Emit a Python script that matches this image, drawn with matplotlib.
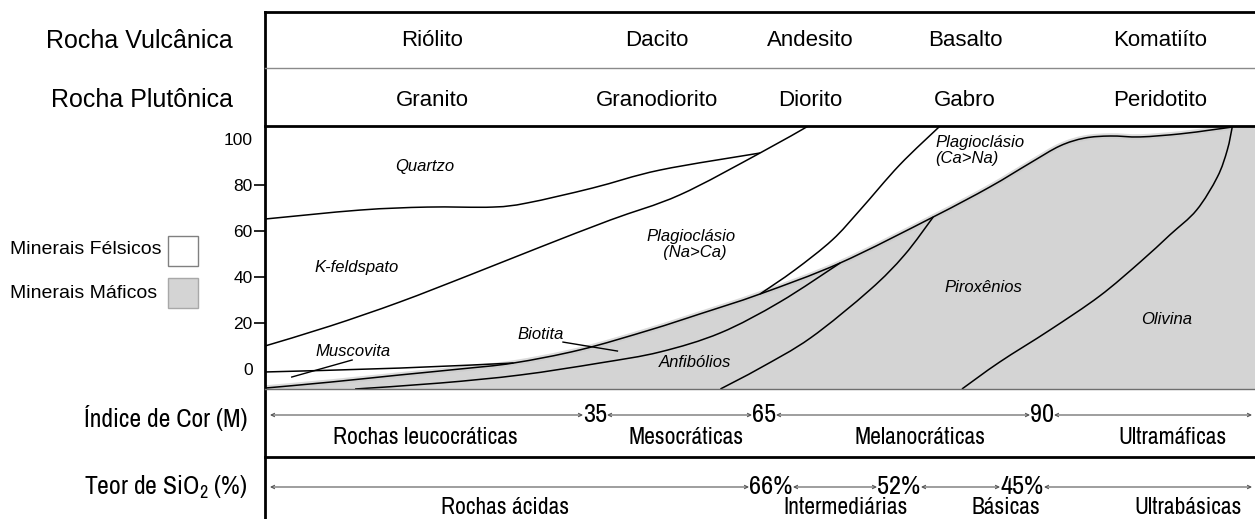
import numpy as np
import matplotlib.pyplot as plt
from matplotlib.path import Path
from matplotlib.patches import PathPatch

plt.rcParams['font.family'] = ['Liberation Sans', 'DejaVu Sans']
NARROW = ['Archivo Narrow', 'Roboto Condensed', 'Liberation Sans', 'DejaVu Sans']
plt.rcParams['mathtext.fontset'] = 'custom'
plt.rcParams['mathtext.rm'] = NARROW[0]
plt.rcParams['mathtext.it'] = NARROW[0] + ':italic'

W, H = 1255, 519
GRAY = '#d4d4d4'

# rock names per column
volcanic = ['Riólito', 'Dacito', 'Andesito', 'Basalto', 'Komatiíto']
plutonic = ['Granito', 'Granodiorito', 'Diorito', 'Gabro', 'Peridotito']
rock_x = [432, 657, 810, 965, 1160]

# color index (M) and silica scales
color_index = ['35', '65', '90']
color_index_x = [595, 764, 1042]
color_classes = ['Rochas leucocráticas', 'Mesocráticas', 'Melanocráticas', 'Ultramáficas']
color_class_x = [425, 686, 920, 1172]

silica = ['66%', '52%', '45%']
silica_x = [771, 899, 1022]
silica_classes = ['Rochas ácidas', 'Intermediárias', 'Básicas', 'Ultrabásicas']
silica_class_x = [505, 846, 1006, 1188]

# mineral field boundaries: x across the diagram (0-100), y in vol %
quartz_x = [0, 9.6, 16.4, 23.0, 26.5, 33.1, 39.9, 50.0]
quartz_y = [65.2, 69.1, 70.4, 70.4, 72.2, 78.7, 86.5, 93.9]

kfeld_x = [0, 6.6, 13.6, 20.7, 27.8, 34.9, 41.9, 50.0, 54.9]
kfeld_y = [10.0, 18.7, 29.1, 40.9, 53.0, 64.8, 75.7, 93.9, 105.7]

plag_x = [68.2, 64.1, 60.1, 57.3, 53.5, 50.0]
plag_y = [105.7, 88.7, 69.1, 56.1, 43.0, 32.6]

musc_x = [0, 13.6, 25.1]
musc_y = [-1.3, 0.4, 2.6]

mafic_x = [0, 6.6, 13.6, 19.7, 25.1, 31.8, 38.9, 43.9, 50.0, 58.1, 67.5,
           73.2, 77.3, 80.3, 82.8, 85.4, 88.4, 92.4, 95.5, 97.7]
mafic_y = [-8.3, -5.7, -2.6, 0.0, 2.6, 8.3, 17.0, 23.9, 32.6, 46.1, 66.1,
           79.1, 89.6, 97.0, 100.4, 101.3, 100.9, 102.2, 103.9, 105.2]

biot_x = [9.1, 17.7, 25.8, 33.8, 39.9, 46.0, 52.0, 58.1]
biot_y = [-8.7, -6.1, -2.6, 2.6, 7.4, 15.7, 29.1, 46.1]

amph_x = [46.0, 50.0, 55.1, 61.1, 64.6, 67.5]
amph_y = [-8.7, 0.4, 13.5, 34.4, 49.6, 66.1]

oliv_x = [70.4, 74.2, 79.3, 84.3, 88.4, 91.4, 94.1, 96.2, 97.2, 97.7]
oliv_y = [-8.7, 3.0, 17.0, 31.7, 46.5, 58.3, 69.1, 83.5, 95.2, 105.2]

y_bottom, y_top = -8.7, 105.65


def smooth(xs, ys):
    """Cubic Bezier vertices/codes running through every point (Catmull-Rom tangents)."""
    p = np.column_stack([xs, ys]).astype(float)
    ext = np.vstack([p[0], p, p[-1]])
    verts, codes = [p[0]], [Path.MOVETO]
    for i in range(len(p) - 1):
        a, b, c, d = ext[i], ext[i + 1], ext[i + 2], ext[i + 3]
        verts += [b + (c - a) / 6, c - (d - b) / 6, c]
        codes += [Path.CURVE4] * 3
    return verts, codes


fig = plt.figure(figsize=(W / 100, H / 100), dpi=100)

# mineral diagram
ax = fig.add_axes([265 / W, 1 - 389 / H, 990 / W, 263 / H])
ax.set_xlim(0, 100)
ax.set_ylim(y_bottom, y_top)
ax.set_facecolor('none')
for s in ax.spines.values():
    s.set_visible(False)

v, c = smooth(mafic_x, mafic_y)
v = v + [(mafic_x[-1], y_top), (100, y_top), (100, y_bottom), (0, y_bottom), (0, 0)]
c = c + [Path.LINETO] * 4 + [Path.CLOSEPOLY]
ax.add_patch(PathPatch(Path(v, c), facecolor=GRAY, lw=0))
v, c = smooth(mafic_x, mafic_y)
ax.add_patch(PathPatch(Path(v, c), facecolor='none', edgecolor='#cccccc', lw=4, alpha=0.7))
ax.add_patch(PathPatch(Path(v, c), facecolor='none', edgecolor='black', lw=1.1))

for xs, ys in [(quartz_x, quartz_y), (kfeld_x, kfeld_y), (plag_x, plag_y),
               (musc_x, musc_y), (biot_x, biot_y), (amph_x, amph_y), (oliv_x, oliv_y)]:
    v, c = smooth(xs, ys)
    ax.add_patch(PathPatch(Path(v, c), facecolor='none', edgecolor='black', lw=1.1))

ax.set_xticks([])
ax.set_yticks([0, 20, 40, 60, 80, 100])
ax.set_yticklabels(['0', '20', '40', '60', '80', '100'], fontsize=12.5)
ax.tick_params(axis='y', length=8, width=1.2, pad=1)
for t in ax.yaxis.get_major_ticks():
    if t.get_loc() in (0, 100):
        t.tick1line.set_visible(False)

it = dict(style='italic', fontsize=12)
ax.text(16.1, 88, 'Quartzo', ha='center', va='center', **it)
ax.text(9.3, 44, 'K-feldspato', ha='center', va='center', **it)
ax.text(43.0, 54, 'Plagioclásio\n  (Na>Ca)', ha='center', va='center', linespacing=1.05, **it)
ax.text(67.7, 95, 'Plagioclásio\n(Ca>Na)', ha='left', va='center', linespacing=1.05, **it)
ax.text(8.9, 7.4, 'Muscovita', ha='center', va='center', **it)
ax.text(27.8, 15, 'Biotita', ha='center', va='center', **it)
ax.text(43.4, 3, 'Anfibólios', ha='center', va='center', **it)
ax.text(72.6, 35.5, 'Piroxênios', ha='center', va='center', **it)
ax.text(91.1, 21.7, 'Olivina', ha='center', va='center', **it)
ax.plot([2.7, 8.8], [-3.5, 3.9], color='black', lw=1)
ax.plot([30.1, 35.6], [11.7, 7.8], color='black', lw=1)

# table frame and labels, in pixel units
bg = fig.add_axes([0, 0, 1, 1])
bg.set_xlim(0, W)
bg.set_ylim(H, 0)
bg.set_facecolor('none')
bg.axis('off')

bg.plot([265, 265], [12, H], color='black', lw=2)
bg.plot([265, W], [12, 12], color='black', lw=2)
bg.plot([265, W], [68, 68], color='#8a8a8a', lw=1)
bg.plot([265, W], [126, 126], color='black', lw=2)
bg.plot([265, W], [389, 389], color='#6e6e6e', lw=1)
bg.plot([265, W], [457, 457], color='black', lw=2)

bg.text(233, 41, 'Rocha Vulcânica', ha='right', va='center', fontsize=18)
bg.text(233, 100, 'Rocha Plutônica', ha='right', va='center', fontsize=18)
for name_v, name_p, x in zip(volcanic, plutonic, rock_x):
    bg.text(x, 41, name_v, ha='center', va='center', fontsize=16)
    bg.text(x, 100, name_p, ha='center', va='center', fontsize=16)

# legend
bg.text(10, 249, 'Minerais Félsicos', ha='left', va='center', fontsize=14)
bg.text(10, 293, 'Minerais Máficos', ha='left', va='center', fontsize=14)
bg.add_patch(plt.Rectangle((168, 236), 30, 30, facecolor='white', edgecolor='#808080', lw=1))
bg.add_patch(plt.Rectangle((168, 278), 30, 30, facecolor=GRAY, edgecolor='#a8a8a8', lw=1))

nf = dict(family=NARROW)
bg.text(247, 418, 'Índice de Cor (M)', ha='right', va='center', fontsize=18.5, **nf)
bg.text(247, 487, 'Teor de SiO$_2$ (%)', ha='right', va='center', fontsize=18.5, **nf)


def scale_row(labels, xs, half, y):
    edges = [270]
    for x in xs:
        edges += [x - half, x + half]
    edges.append(1252)
    for a, b in zip(edges[::2], edges[1::2]):
        bg.annotate('', xy=(b, y), xytext=(a, y),
                    arrowprops=dict(arrowstyle='<->', color='#555555', lw=0.8,
                                    shrinkA=0, shrinkB=0, mutation_scale=6))
    for lab, x in zip(labels, xs):
        bg.text(x, y, lab, ha='center', va='center', fontsize=19, **nf)


scale_row(color_index, color_index_x, 12, 415)
scale_row(silica, silica_x, 22, 487)
for lab, x in zip(color_classes, color_class_x):
    bg.text(x, 438, lab, ha='center', va='center', fontsize=17, **nf)
for lab, x in zip(silica_classes, silica_class_x):
    bg.text(x, 507, lab, ha='center', va='center', fontsize=17, **nf)

fig.savefig('out.png', dpi=100, facecolor='white')
